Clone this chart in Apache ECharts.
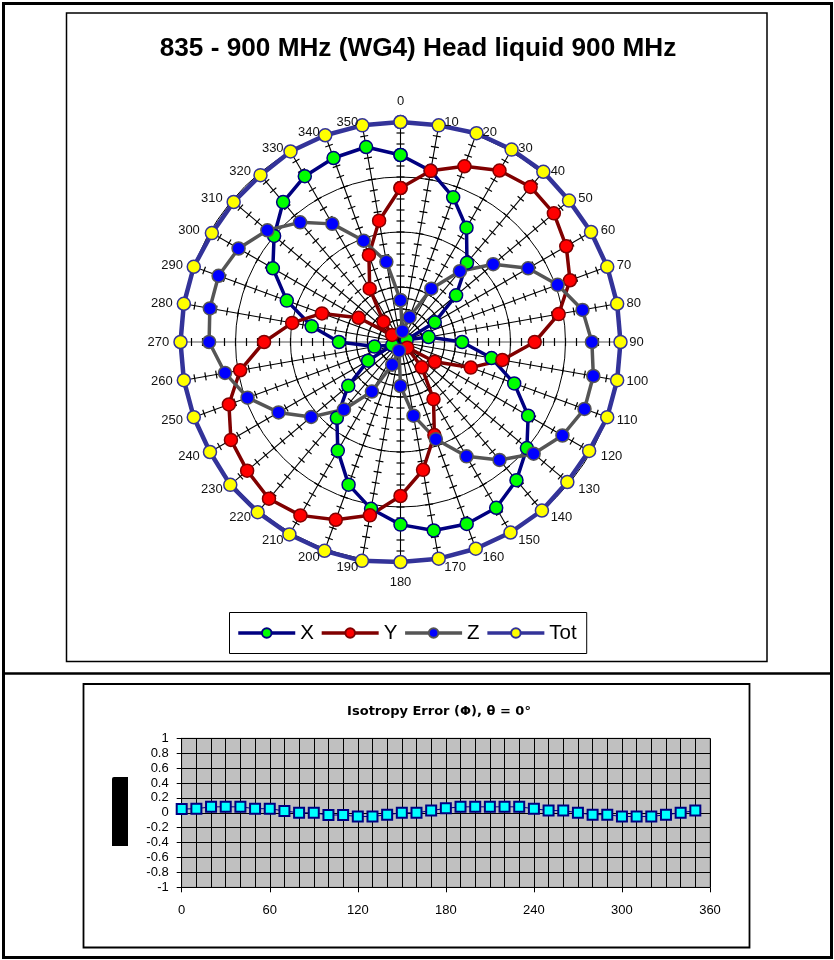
<!DOCTYPE html>
<html>
<head>
<meta charset="utf-8">
<script src="https://cdn.jsdelivr.net/npm/echarts@6.0.0/dist/echarts.min.js"></script>
<style>
html,body{margin:0;padding:0;background:#fff;}
#c{width:834px;height:960px;}
</style>
</head>
<body>
<div id="c"></div>
<script>
// ---------- data ----------
const angleLabels = ['0','10','20','30','40','50','60','70','80','90','100','110','120','130','140','150','160','170',
                     '180','190','200','210','220','230','240','250','260','270','280','290','300','310','320','330','340','350'];
const angles    = [0,10,20,30,40,50,60,70,80,90,100,110,120,130,140,150,160,170,
                   180,190,200,210,220,230,240,250,260,270,280,290,300,310,320,330,340,350];
const xValues   = [0.85,0.79,0.70,0.60,0.47,0.33,0.18,0.03,0.13,0.28,0.42,0.55,0.67,0.75,0.82,0.87,0.88,0.87,
                   0.83,0.77,0.69,0.57,0.45,0.31,0.17,0.04,0.12,0.28,0.41,0.55,0.67,0.75,0.83,0.87,0.89,0.90];
const yValues   = [0.70,0.79,0.85,0.90,0.92,0.91,0.87,0.82,0.73,0.61,0.47,0.34,0.18,0.04,0.15,0.30,0.45,0.59,
                   0.70,0.80,0.86,0.91,0.93,0.91,0.89,0.83,0.74,0.62,0.50,0.38,0.22,0.05,0.12,0.28,0.42,0.56];
const zValues   = [0.19,0.05,0.12,0.28,0.42,0.55,0.67,0.76,0.84,0.87,0.89,0.89,0.85,0.79,0.70,0.60,0.47,0.34,
                   0.20,0.04,0.11,0.26,0.40,0.53,0.64,0.74,0.81,0.87,0.88,0.88,0.85,0.79,0.71,0.62,0.49,0.37];
const totValues = [1.00,1.00,1.01,1.01,1.01,1.00,1.00,1.00,1.00,1.00,1.00,1.00,0.99,0.99,1.00,1.00,1.00,1.00,
                   1.00,1.01,1.01,1.01,1.01,1.01,1.00,1.00,1.00,1.00,1.00,1.00,0.99,0.99,0.99,1.00,1.00,1.00];

const isoAngles = [0,10,20,30,40,50,60,70,80,90,100,110,120,130,140,150,160,170,
                   180,190,200,210,220,230,240,250,260,270,280,290,300,310,320,330,340,350];
const isoError  = [0.05,0.055,0.08,0.08,0.08,0.055,0.055,0.025,0.0,0.0,-0.03,-0.03,-0.05,-0.05,-0.025,0.0,0.0,0.03,
                   0.06,0.08,0.08,0.08,0.08,0.08,0.055,0.03,0.03,0.0,-0.025,-0.025,-0.05,-0.05,-0.05,-0.025,0.0,0.03];

const polarTitle = '835 - 900 MHz (WG4) Head liquid 900 MHz';
const isoTitle = 'Isotropy Error (\u03A6), \u03B8 = 0\u00B0';
const legendNames = ['X','Y','Z','Tot'];

// ---------- helpers ----------
const FONT = 'Liberation Sans, Arial, Helvetica, sans-serif';
const R_MAX = 1.05;          // radius axis extent (slightly beyond 1 so the outer ring is not clipped)
const tickStep = 0.05;       // spacing of the small cross ticks on each spoke

function closedLoop(vals) {
  const d = vals.map((v, i) => [v, angles[i]]);
  d.push([vals[0], 360]);
  return d;
}

function lineSeries(name, vals, lineColor, fill, border, width) {
  return {
    type: 'line', name: name, coordinateSystem: 'polar', polarIndex: 0,
    data: closedLoop(vals), clip: false, z: 3,
    symbol: 'circle', symbolSize: 13, showSymbol: true,
    lineStyle: { color: lineColor, width: width },
    itemStyle: { color: fill, borderColor: border, borderWidth: 1.5 },
    emphasis: { disabled: true }
  };
}

const chart = echarts.init(document.getElementById('c'), null, { renderer: 'canvas', width: 834, height: 960 });

const option = {
  animation: false,
  backgroundColor: '#ffffff',
  graphic: [
    { type: 'rect', z: 0, shape: { x: 3.5, y: 3.5, width: 828, height: 954 }, style: { fill: 'none', stroke: '#000', lineWidth: 3 } },
    { type: 'line', z: 0, shape: { x1: 3.5, y1: 673.5, x2: 831.5, y2: 673.5 }, style: { stroke: '#000', lineWidth: 2.5 } },
    { type: 'rect', z: 0, shape: { x: 66.5, y: 13, width: 700.5, height: 648.5 }, style: { fill: 'none', stroke: '#000', lineWidth: 1.5 } },
    { type: 'rect', z: 0, shape: { x: 83.5, y: 684, width: 666, height: 263.5 }, style: { fill: 'none', stroke: '#000', lineWidth: 1.8 } },
    { type: 'text', z: 10, x: 418, y: 49, style: { text: polarTitle, align: 'center', verticalAlign: 'middle', fill: '#000', font: 'bold 26.2px ' + FONT } },
    { type: 'text', z: 10, x: 439, y: 712, style: { text: isoTitle, align: 'center', verticalAlign: 'middle', fill: '#000', font: 'bold 13px DejaVu Sans, ' + FONT } },
    { type: 'rect', z: 10, shape: { x: 112, y: 777, width: 16, height: 69, r: [2, 0, 0, 0] }, style: { fill: '#000' } }
  ],
  legend: {
    data: legendNames, left: 229.5, top: 612.5, orient: 'horizontal',
    itemWidth: 57, itemHeight: 12, itemGap: 6,
    padding: [10, 10, 10, 7],
    borderColor: '#000', borderWidth: 1, backgroundColor: '#fff',
    selectedMode: false,
    lineStyle: { width: 3.5 },
    textStyle: { fontSize: 20.5, color: '#000', fontFamily: FONT }
  },
  polar: { center: [400.5, 342], radius: 220 * R_MAX },
  angleAxis: {
    type: 'value', min: 0, max: 360, interval: 10,
    startAngle: 90, clockwise: true,
    axisLine: { show: false }, axisTick: { show: false }, axisLabel: { show: false },
    splitLine: { show: false }
  },
  radiusAxis: {
    type: 'value', min: 0, max: R_MAX, interval: 0.25,
    axisLine: { show: false }, axisTick: { show: false }, axisLabel: { show: false },
    splitLine: { show: true, lineStyle: { color: ['#000', '#000', '#000', '#000', '#000', 'rgba(0,0,0,0)'], width: 1 } }
  },
  grid: {
    left: 181.7, top: 738.3, width: 528.3, height: 149,
    show: true, backgroundColor: '#c0c0c0', borderColor: '#808080', borderWidth: 1
  },
  xAxis: {
    type: 'value', min: 0, max: 360, interval: 60,
    axisLine: { show: true, onZero: false, lineStyle: { color: '#000', width: 1 } },
    axisTick: { show: true, length: 5, lineStyle: { color: '#000' } },
    minorTick: { show: false, splitNumber: 6 },
    axisLabel: { fontSize: 13, color: '#000', fontFamily: FONT, margin: 17 },
    splitLine: { show: true, lineStyle: { color: '#000', width: 1 } },
    minorSplitLine: { show: true, lineStyle: { color: '#000', width: 1 } }
  },
  yAxis: {
    type: 'value', min: -1, max: 1, interval: 0.2,
    axisLine: { show: true, lineStyle: { color: '#000', width: 1 } },
    axisTick: { show: true, length: 5, lineStyle: { color: '#000' } },
    axisLabel: { fontSize: 13, color: '#000', fontFamily: FONT, margin: 13 },
    splitLine: { show: true, lineStyle: { color: '#000', width: 1 } }
  },
  series: [
    // spokes with small cross ticks
    {
      type: 'custom', coordinateSystem: 'polar', polarIndex: 0, silent: true, z: 1,
      data: angles.map(a => [0, a]),
      renderItem: function (params, api) {
        const ang = api.value(1);
        const label = angleLabels[params.dataIndex];
        const c = api.coord([0, ang]);
        const e = api.coord([1, ang]);
        const dx = e[0] - c[0], dy = e[1] - c[1];
        const len = Math.sqrt(dx * dx + dy * dy) || 1;
        const ux = -dy / len, uy = dx / len;
        const children = [{
          type: 'line',
          shape: { x1: c[0], y1: c[1], x2: e[0], y2: e[1] },
          style: { stroke: (label === '90' || label === '270') ? '#555' : '#000', lineWidth: 1.1 }
        }];
        const n = Math.round(1 / tickStep);
        for (let k = 1; k < n; k++) {
          const p = api.coord([k * tickStep, ang]);
          children.push({
            type: 'line',
            shape: { x1: p[0] - ux * 4, y1: p[1] - uy * 4, x2: p[0] + ux * 4, y2: p[1] + uy * 4 },
            style: { stroke: '#000', lineWidth: 1.2 }
          });
        }
        return { type: 'group', children: children };
      }
    },
    lineSeries('X', xValues, '#000080', '#00ff00', '#000080', 3.5),
    lineSeries('Y', yValues, '#800000', '#ff0000', '#800000', 3.5),
    lineSeries('Z', zValues, '#555555', '#0000ff', '#555555', 3.5),
    lineSeries('Tot', totValues, '#333399', '#ffff00', '#333399', 4.5),
    // angle labels
    {
      type: 'custom', coordinateSystem: 'polar', polarIndex: 0, silent: true, z: 6,
      data: angles.map(a => [0, a]),
      renderItem: function (params, api) {
        const ang = api.value(1);
        const label = angleLabels[params.dataIndex];
        const c = api.coord([0, ang]);
        const e = api.coord([1, ang]);
        const cosA = Math.cos(ang * Math.PI / 180);
        let k = 1.04, align, vAlign = 'middle', ox = 0, oy = 0;
        if (ang === 0) { align = 'center'; vAlign = 'bottom'; k = 1.065; }
        else if (ang === 180) { align = 'center'; vAlign = 'top'; k = 1.065; }
        else if (ang < 180) { align = 'left'; ox = 4 * Math.abs(cosA); }
        else { align = 'right'; ox = -2.5; }
        if (ang !== 0 && ang !== 180 && cosA > 0) { oy = 5.5 * cosA; }
        const x = c[0] + (e[0] - c[0]) * k + ox;
        const y = c[1] + (e[1] - c[1]) * k + oy;
        return {
          type: 'text',
          style: { text: label, x: x, y: y, align: align, verticalAlign: vAlign, fill: '#111', fontSize: 13, fontFamily: FONT }
        };
      }
    },
    // isotropy error
    {
      type: 'line', name: 'Isotropy', xAxisIndex: 0, yAxisIndex: 0,
      data: isoAngles.map((a, i) => [a, isoError[i]]),
      symbol: 'rect', symbolSize: 10, z: 3,
      lineStyle: { color: '#000080', width: 1 },
      itemStyle: { color: '#00ffff', borderColor: '#000080', borderWidth: 2 },
      emphasis: { disabled: true }
    }
  ]
};
chart.setOption(option);
</script>
</body>
</html>
